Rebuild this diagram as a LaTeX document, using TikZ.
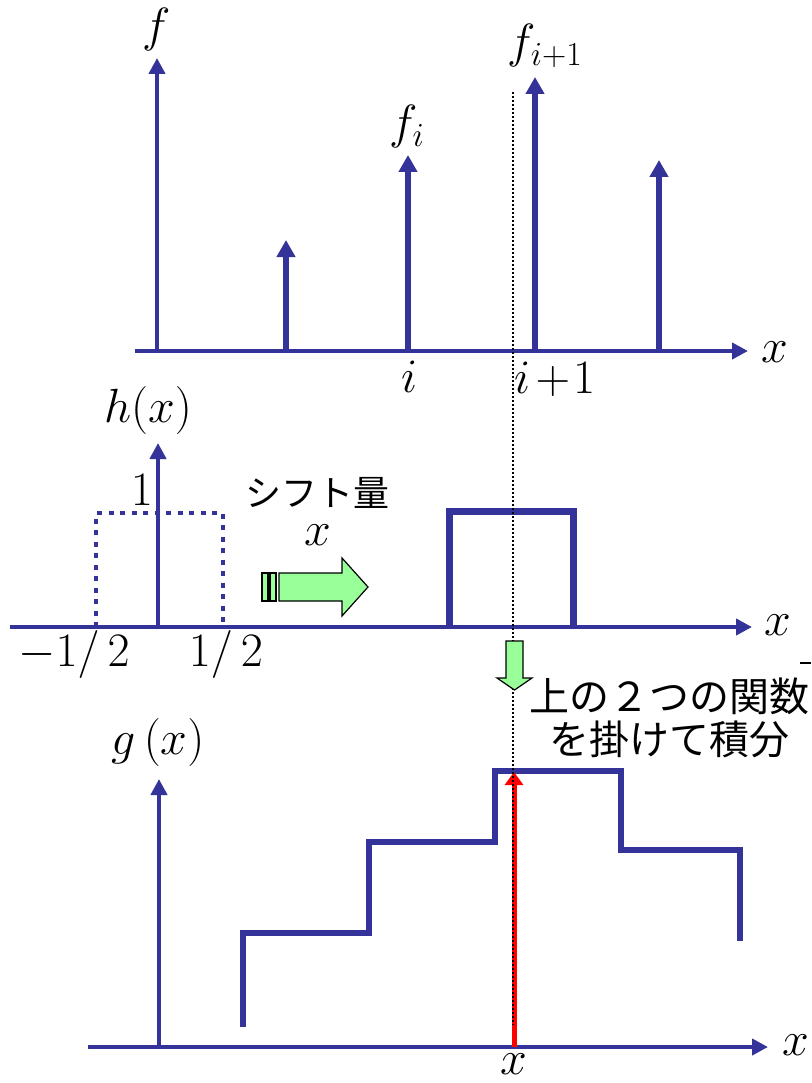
\RequirePackage{fix-cm}
\documentclass[tikz,border=0pt]{standalone}
\usepackage{fontspec}
\newfontfamily\jp{Noto Sans CJK JP}
\usetikzlibrary{arrows.meta}
\definecolor{axblue}{RGB}{51,51,153}
\definecolor{lgreen}{RGB}{153,255,153}
\begin{document}
\begin{tikzpicture}[x=1pt,y=-1pt,
  axis/.style={draw=axblue, line width=4pt, -{Triangle[width=16pt,length=16pt]}},
  stem/.style={draw=axblue, line width=6pt, -{Triangle[width=18pt,length=17pt]}},
  box/.style={draw=axblue, line width=7pt},
  stair/.style={draw=axblue, line width=6pt},
  dotbox/.style={draw=axblue, line width=4pt, dash pattern=on 5pt off 6.5pt},
  guide/.style={draw=black, line width=1.5pt, dash pattern=on 2pt off 2pt},
  redarr/.style={draw=red, line width=5pt, -{Triangle[width=18pt,length=13pt]}},
  garrow/.style={draw=black, fill=lgreen, line width=1.2pt},
  lab/.style={inner sep=0pt, font=\fontsize{48}{52}\selectfont},
  jplab/.style={inner sep=0pt, align=center},
]
\useasboundingbox (0,0) rectangle (811,1083);

% ---------- top panel ----------
\draw[axis] (135,351) -- (748,351);
\draw[axis] (157,351) -- (157,58);
\draw[stem] (286,349) -- (286,240);
\draw[stem] (408,349) -- (408,155);
\draw[stem] (535,349) -- (535,77);
\draw[stem] (659,349) -- (659,160);
\node[lab] (lf) at (157,30) {$f$};
\node[lab] (lfi) at (407,127) {$f_i$};
\node[lab] (lfi1) at (545,46) {$f_{i+1}$};
\node[lab] (lxt) at (775,352) {$x$};
\node[lab] (li) at (410,377) {$i$};
\node[lab] (li1) at (555,379) {$i\kern5pt{+}\kern3pt1$};

% ---------- middle panel ----------
\draw[axis] (10,627) -- (752,627);
\draw[axis] (158,627) -- (158,443);
\draw[dotbox] (96,627) -- (96,513) -- (223,513) -- (223,627);
\draw[box] (449,627) -- (449,511) -- (573,511) -- (573,627);
\node[lab] (lh) at (148,410) {$h(x)$};
\node[lab] (lone) at (142,490) {$1$};
\node[lab] (lmh) at (74,654) {$-1/\,2$};
\node[lab] (lph) at (226,654) {$1/\,2$};
\node[lab] (lxm) at (778,625) {$x$};
\node[jplab, font=\jp\fontsize{36}{40}\selectfont] (shift) at (317,493) {シフト量};
\node[lab] (lsx) at (318,535) {$x$};
% right green arrow
\draw[garrow] (262,573) rectangle (268,601);
\draw[garrow] (270,573) rectangle (276,601);
\draw[garrow] (279,573) -- (342,573) -- (342,558) -- (368,587) -- (342,616) -- (342,601) -- (279,601) -- cycle;
\draw[black, line width=1.5pt] (800,663) -- (811,663);

% ---------- bottom panel ----------
\draw[axis] (88,1047) -- (768,1047);
\draw[axis] (159,1047) -- (159,779);
\draw[stair] (243,1027) -- (243,933) -- (369,933) -- (369,842) -- (495,842) -- (495,771) -- (621,771) -- (621,850) -- (740,850) -- (740,941);
\draw[redarr] (514,1047) -- (514,772);
\node[lab] (lg) at (158,742) {$g\,(x)$};
\node[lab] (lxb) at (796,1045) {$x$};
\node[lab] (lxr) at (514,1064) {$x$};
\node[jplab, font=\jp\fontsize{40}{43}\selectfont] (txt) at (669,718) {上の２つの関数\\を掛けて積分};

% guide line and down arrow
\draw[guide] (513,92) -- (513,1025);
\draw[garrow] (506,641) -- (523,641) -- (523,678) -- (532,678) -- (514.5,690) -- (497,678) -- (506,678) -- cycle;
\end{tikzpicture}
\end{document}
